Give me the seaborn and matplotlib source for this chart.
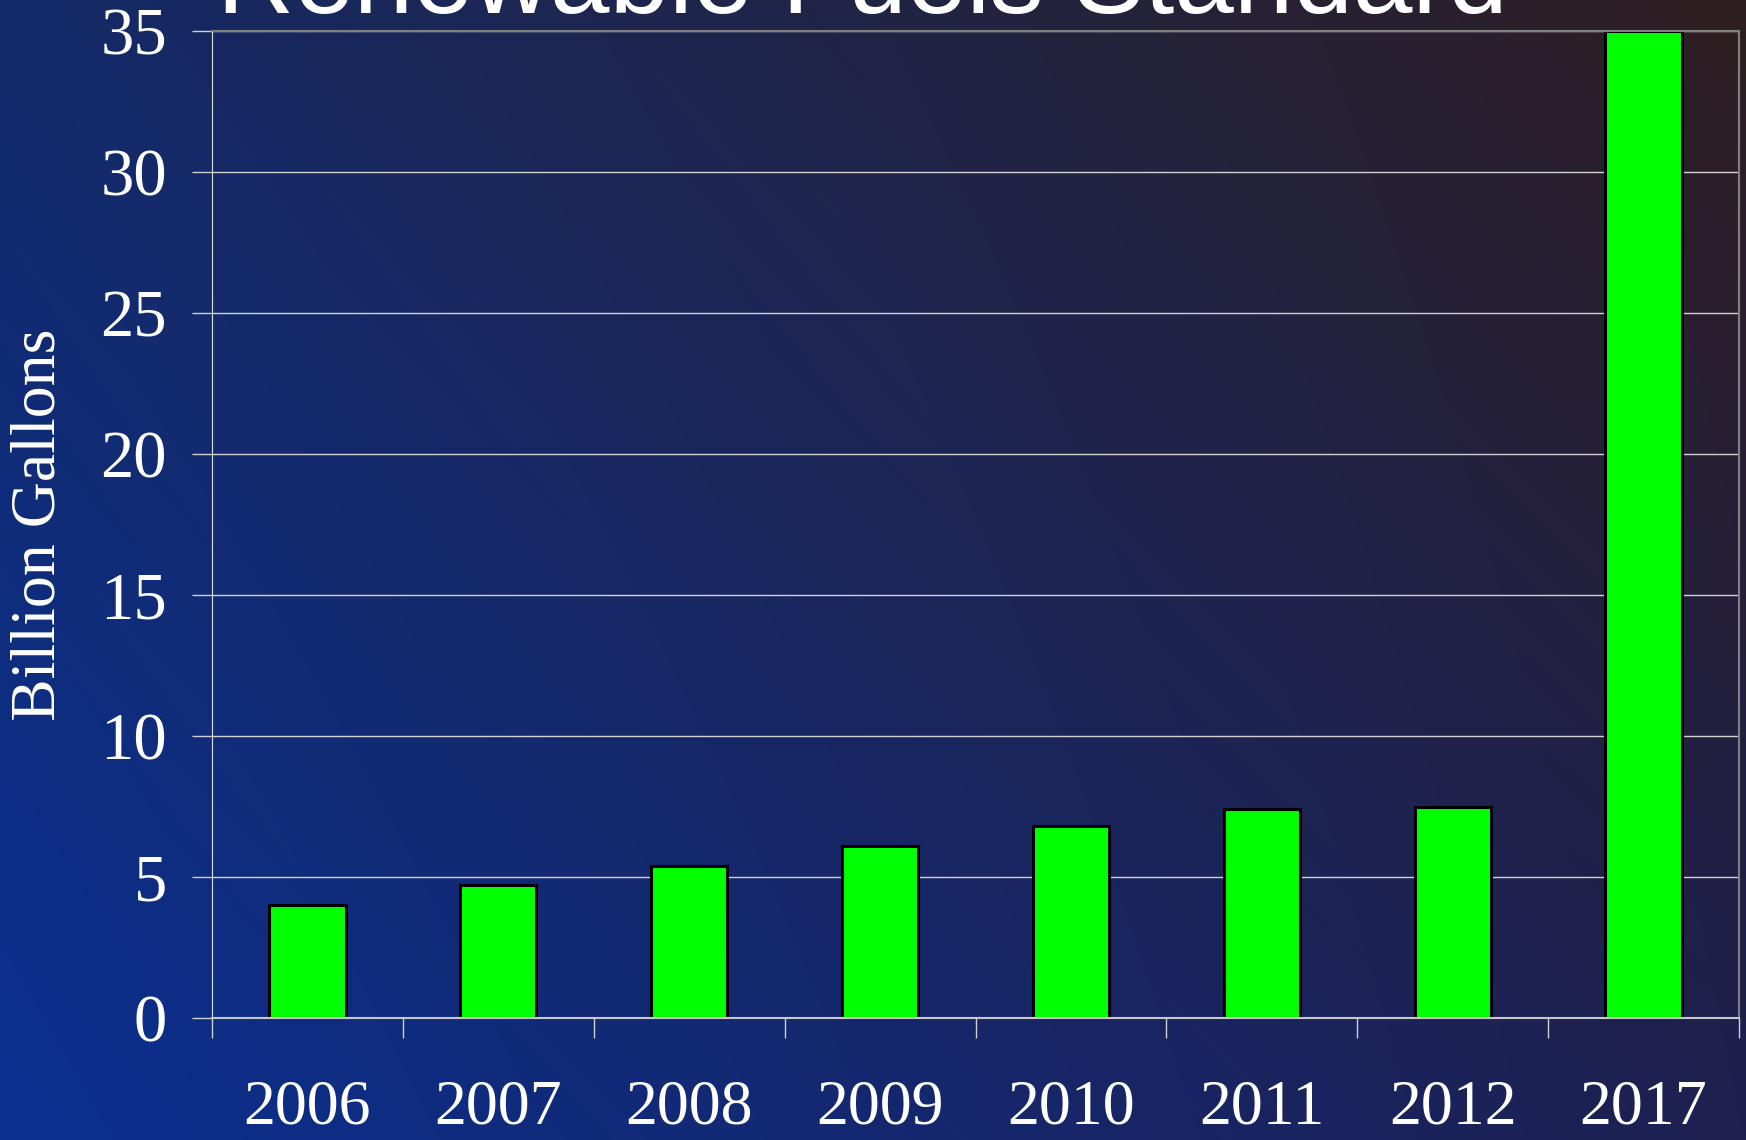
import numpy as np
import pandas as pd
import matplotlib
matplotlib.use("Agg")
import matplotlib.pyplot as plt
from matplotlib.ticker import FixedLocator
import seaborn as sns

# Renewable Fuels Standard volumes (billion gallons)
years = ["2006", "2007", "2008", "2009", "2010", "2011", "2012", "2017"]
volumes = [4.0, 4.7, 5.4, 6.1, 6.8, 7.4, 7.5, 35.0]
y_ticks = [0, 5, 10, 15, 20, 25, 30, 35]

df = pd.DataFrame({"year": years, "volume": volumes})

sns.set_theme(style="white")
plt.rcParams["font.family"] = ["Liberation Serif", "DejaVu Serif"]

W, H, DPI = 1746, 1140, 100
fig = plt.figure(figsize=(W / DPI, H / DPI), dpi=DPI)

# diagonal slide-style background: bright blue lower left, dark maroon upper right
tl = np.array([20, 42, 105]) / 255
tr = np.array([46, 30, 32]) / 255
bl = np.array([10, 48, 145]) / 255
br = np.array([30, 32, 80]) / 255
u = np.linspace(0, 1, 300)[None, :, None]
v = np.linspace(0, 1, 200)[:, None, None]
grad = (1 - v) * ((1 - u) * tl + u * tr) + v * ((1 - u) * bl + u * br)
bg = fig.add_axes([0, 0, 1, 1], zorder=-10)
bg.imshow(grad, aspect="auto", extent=[0, 1, 0, 1], interpolation="bilinear")
bg.set_axis_off()

ax = fig.add_axes([212 / W, 1 - 1018 / H, (1739 - 212) / W, (1018 - 31) / H])
ax.set_facecolor("none")

sns.barplot(data=df, x="year", y="volume", color="#00ff00", width=0.4,
            edgecolor="black", linewidth=2.2, saturation=1, ax=ax, zorder=3)

ax.set_xlim(-0.5, len(years) - 0.5)
ax.set_ylim(0, 35)
ax.set_yticks(y_ticks)
ax.set_yticklabels([str(t) for t in y_ticks])
ax.yaxis.grid(True, color="#d2d2d2", linewidth=1.0, zorder=0)
ax.set_axisbelow(True)

# category separators as minor ticks, labels centred on bars
ax.xaxis.set_minor_locator(FixedLocator(np.arange(-0.5, len(years), 1.0)))
ax.tick_params(axis="x", which="major", length=0, pad=44, labelsize=46,
               labelcolor="white")
ax.tick_params(axis="x", which="minor", length=14.4, width=1.0,
               color="#d0d0d0", direction="out", bottom=True)
ax.tick_params(axis="y", which="major", length=14.4, width=1.0,
               color="#d0d0d0", direction="out", left=True, pad=18,
               labelsize=48, labelcolor="white")

ax.set_xlabel("")
ax.set_ylabel("Billion Gallons", fontsize=46, color="white")
ax.yaxis.set_label_coords(-0.094, 0.5)

for side in ["top", "right"]:
    ax.spines[side].set_color("#808080")
    ax.spines[side].set_linewidth(1.5)
ax.spines["bottom"].set_color("#c8c8c8")
ax.spines["bottom"].set_linewidth(1.5)
ax.spines["left"].set_color("#e0e0e0")
ax.spines["left"].set_linewidth(0.8)
for s in ax.spines.values():
    s.set_zorder(4)

fig.text(217 / W, 1 - 13 / H, "Renewable Fuels Standard",
         family=["Liberation Sans", "DejaVu Sans"], fontsize=77,
         color="white", ha="left", va="baseline")

fig.savefig("out.png", dpi=DPI)
